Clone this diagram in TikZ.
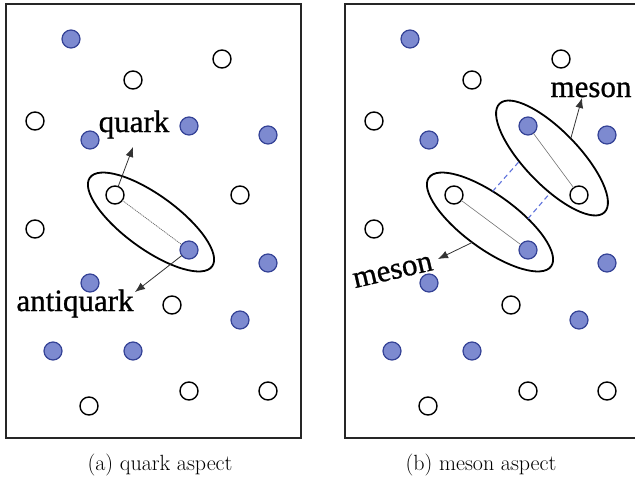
\documentclass[tikz,border=0pt]{standalone}
\usepackage{fontspec}
\newfontfamily\lblfont[FakeBold=0.8]{Liberation Serif}
\usetikzlibrary{shapes.geometric,arrows.meta}
\definecolor{qfill}{RGB}{125,138,208}
\definecolor{qedge}{RGB}{52,66,150}
\definecolor{dashblue}{RGB}{95,115,220}
\begin{document}
\begin{tikzpicture}[x=1pt,y=1pt,
  quarkw/.style={circle,draw=black,fill=white,line width=1.4pt,minimum size=18pt,inner sep=0pt,outer sep=0pt},
  quarkb/.style={circle,draw=qedge,fill=qfill,line width=1.2pt,minimum size=18pt,inner sep=0pt,outer sep=0pt},
  hadron/.style={ellipse,draw=black,line width=1.8pt,inner sep=0pt,outer sep=0pt,minimum width=151pt,minimum height=54pt},
  panelbox/.style={draw=black!85,line width=1.8pt},
  ptr/.style={draw=black!80,line width=0.8pt,-{Latex[length=10pt,width=8pt]}},
  bondl/.style={draw=black!60,line width=0.7pt,dash pattern=on 1.2pt off 0.8pt},
  bondr/.style={draw=black!55,line width=0.6pt},
  glue/.style={draw=dashblue,line width=1.1pt,dash pattern=on 5pt off 3.5pt},
  lbl/.style={font=\lblfont\fontsize{31}{31}\selectfont,inner sep=0pt},
  captext/.style={font=\fontsize{22}{26}\selectfont,inner sep=0pt}]
\useasboundingbox (0,0) rectangle (635,-482);
\draw[panelbox] (6,-4) rectangle (301,-438);
\draw[panelbox] (345,-4) rectangle (640,-438);
% hadron ellipses
\node[hadron,rotate=-36] (ea) at (151,-222) {};
\node[hadron,rotate=-36] (eb) at (490,-222) {};
\node[hadron,rotate=-46] (ec) at (552,-158) {};
% particles
\foreach \n/\x/\y/\t in {1/71/39/quarkb, 2/222/59/quarkw, 3/133/80/quarkw, 4/35/121/quarkw,
  5/90/140/quarkb, 6/189/126/quarkb, 7/268/135/quarkb, 8/115/195/quarkw, 9/240/195/quarkw,
  10/35/229/quarkw, 11/189/250/quarkb, 12/268/263/quarkb, 13/90/283/quarkb, 14/172/305/quarkw,
  15/240/320/quarkb, 16/53/351/quarkb, 17/133/351/quarkb, 18/189/391/quarkw, 19/268/391/quarkw,
  20/89/406/quarkw} {
  \node[\t] (a\n) at (\x,-\y) {};
  \node[\t] (b\n) at (\x+339,-\y) {};
}
% bonds
\draw[bondl] (a8) -- (a11);
\draw[bondr] (b8) -- (b11);
\draw[bondr] (b6) -- (b9);
\draw[glue] (eb.121) -- (ec.232);
\draw[glue] (eb.41) -- (ec.313);
% pointers
\coordinate (qtip) at (133,-147);
\coordinate (aqtip) at (135,-292);
\coordinate (m1tip) at (582,-98);
\coordinate (m2tip) at (438,-259);
\draw[ptr] (a8) -- (qtip);
\draw[ptr] (a11) -- (aqtip);
\draw[ptr] (ec.92) -- (m1tip);
\draw[ptr] (eb.265) -- (m2tip);
% labels
\node[lbl,anchor=base] (tq) at (134,-132) {quark};
\node[lbl,anchor=base] (taq) at (75,-311) {antiquark};
\node[lbl,anchor=base] (tm1) at (591,-97) {meson};
\node[lbl,rotate=13] (tm2) at (393,-272) {meson};
\node[captext,anchor=base] (ca) at (160,-470) {(a) quark aspect};
\node[captext,anchor=base] (cb) at (481,-470) {(b) meson aspect};
\end{tikzpicture}
\end{document}
